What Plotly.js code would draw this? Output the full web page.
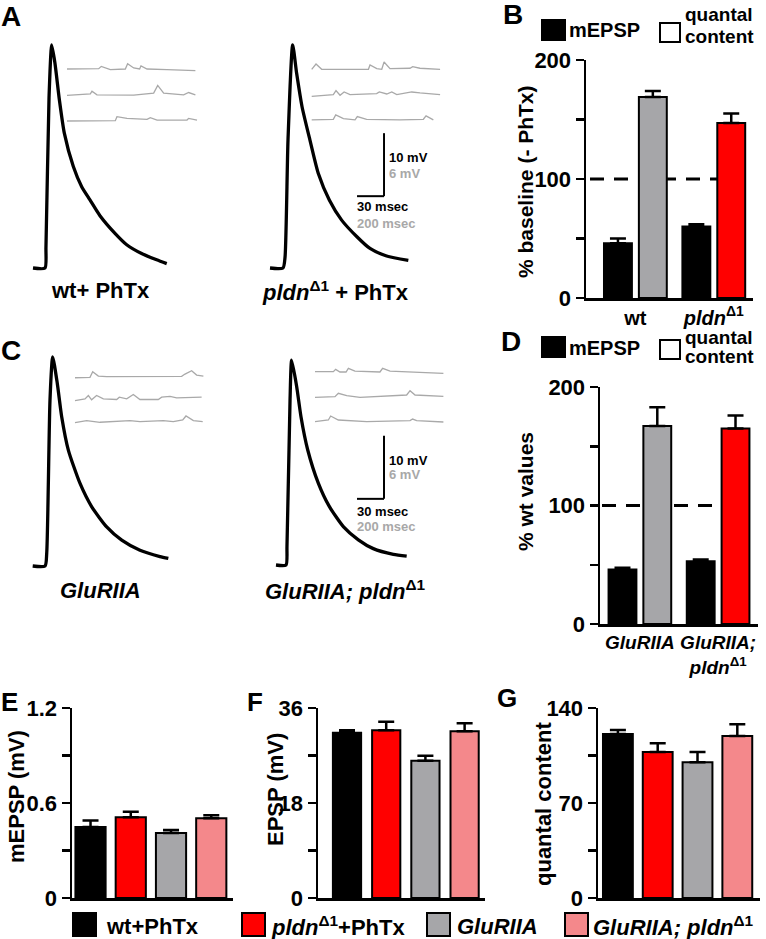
<!DOCTYPE html>
<html><head><meta charset="utf-8">
<script src="https://cdn.plot.ly/plotly-3.0.1.min.js"></script>
<style>body{margin:0;background:#fff}#chart{width:766px;height:939px}</style>
</head><body><div id="chart"></div>
<script>
// ================= DATA =================
// Evoked EPSP traces (time in ms, voltage in mV)
const epspWt_t    = [0, 13.3, 14.4, 17.8, 20.8, 24.4, 29.3, 34.8, 44.8, 54.1, 63.3, 74.4, 91.1, 104.1, 120.7, 137.4, 148.6];
const epspWt_v    = [0, 0, 3.3, 27, 35.4, 32.5, 26.7, 21.4, 16.1, 12.9, 10.8, 8.3, 5.5, 3.7, 2.3, 1.3, 0.7];
const epspPldn_t  = [0, 14.4, 16.7, 20, 25.2, 29.6, 35.6, 44.4, 53.7, 65.9, 79.6, 96.3, 111.1, 129.6, 153.7];
const epspPldn_v  = [0, 0, 1.7, 20.3, 35.4, 30.9, 25.6, 20.3, 15, 10.8, 7.6, 5, 3.1, 1.9, 1.2];
const epspGlu_t   = [0, 13.7, 15.6, 19.2, 22.2, 27.3, 32.2, 39.6, 52.6, 65.6, 82.2, 98.9, 119.2, 141.4, 150.7];
const epspGlu_v   = [0, 0, 2.1, 26.3, 33.2, 29, 23.7, 18.4, 13.1, 9.4, 6.2, 4.1, 2.5, 1.5, 1.2];
const epspGluP_t  = [0, 11.1, 12.2, 15.6, 17.4, 23, 27.8, 35.2, 47, 59.2, 74.8, 91.5, 108.1, 130.4, 145.2];
const epspGluP_v  = [0, 0, 2.9, 26.2, 32.5, 28.3, 23.5, 18.3, 13, 9.3, 6.1, 4, 2.6, 1.7, 1.4];

// Spontaneous mEPSP sweeps (time in ms, voltage in mV)
const miniWt1_t = [0, 235, 254, 321, 432, 449, 494, 538, 548, 593, 741, 951];
const miniWt1_v = [0, 0.03, 0.25, -0.06, 0, 0.5, 0.1, 0, 0.3, 0, -0.06, -0.16];
const miniWt2_t = [0, 173, 185, 222, 494, 642, 672, 716, 864, 901, 951];
const miniWt2_v = [-0.06, 0.1, 0.35, 0, -0.03, 0.16, 0.9, 0.16, 0, 0.22, 0];
const miniWt3_t = [0, 358, 370, 444, 593, 617, 667, 889, 901, 963];
const miniWt3_v = [-0.03, 0, 0.38, 0.22, 0.13, 0.29, 0.06, 0.06, 0.22, 0.06];

const miniPl1_t = [0, 32, 74, 420, 432, 482, 519, 536, 580, 728, 748, 802, 951];
const miniPl1_v = [0, 0.5, 0, 0, 0.41, 0.06, 0, 0.7, 0.06, 0.1, 0.25, 0.1, 0];
const miniPl2_t = [0, 160, 180, 210, 240, 284, 481, 501, 556, 593, 630, 741, 802, 951];
const miniPl2_v = [-0.16, 0, 0.38, -0.06, 0.25, 0, 0.1, 0.25, 0.06, 0.25, 0, 0.25, 0.16, 0];
const miniPl3_t = [0, 160, 178, 235, 321, 338, 407, 654, 827, 847, 901];
const miniPl3_v = [0, 0.06, 0.48, 0.13, 0, 0.32, 0.06, 0, 0.06, 0.38, 0];

const miniGl1_t = [0, 111, 131, 173, 235, 679, 790, 815, 864, 901, 951];
const miniGl1_v = [-0.1, -0.06, 0.48, 0.06, 0, -0.03, 0.03, 0.25, 0.57, 0.16, 0.06];
const miniGl2_t = [0, 74, 99, 123, 160, 210, 309, 328, 383, 432, 481, 617, 642, 704, 753, 938];
const miniGl2_v = [-0.1, 0.06, 0.38, -0.03, 0.38, 0.06, 0, 0.22, 0.06, 0.48, 0, 0, 0.22, 0.29, 0.16, 0.22];
const miniGl3_t = [0, 86, 185, 407, 481, 654, 728, 798, 822, 877, 946];
const miniGl3_v = [-0.03, 0.16, 0, 0.16, 0.06, 0.16, 0.06, 0.22, 0.6, 0.16, 0.06];

const miniGP1_t = [0, 136, 153, 185, 230, 247, 296, 481, 501, 556, 951];
const miniGP1_v = [0, 0, 0.22, -0.03, -0.03, 0.32, 0.06, -0.03, 0.32, 0.06, -0.16];
const miniGP2_t = [0, 148, 173, 235, 333, 481, 679, 704, 741, 951];
const miniGP2_v = [-0.06, 0, 0.32, 0.1, -0.06, 0.03, 0.16, 0.57, 0.16, 0.03];
const miniGP3_t = [0, 99, 116, 173, 383, 704, 723, 753, 951];
const miniGP3_v = [0, 0.16, 0.54, 0.16, 0, 0.1, 0.25, 0.1, -0.03];

// Panel B: % baseline (- PhTx)
const groupsB   = ['wt', '<i>pldn</i><sup>Δ1</sup>'];
const mepspB    = [46, 60];
const mepspBErr = [4, 2];
const qcB       = [169, 147];
const qcBErr    = [5, 8];
// Panel D: % wt values
const groupsD   = ['<i>GluRIIA</i>', '<i>GluRIIA;<br>pldn</i><sup>Δ1</sup>'];
const mepspD    = [46, 53];
const mepspDErr = [1.5, 1.5];
const qcD       = [167, 165];
const qcDErr    = [16, 11];
const refLevel  = 100;
// Panels E, F, G
const genotypes = ['wt+PhTx', 'pldnΔ1+PhTx', 'GluRIIA', 'GluRIIA; pldnΔ1'];
const legendLabels = ['wt+PhTx', '<i>pldn</i><sup>Δ1</sup>+PhTx', '<i>GluRIIA</i>', '<i>GluRIIA; pldn</i><sup>Δ1</sup>'];
const mepspE = [0.448, 0.51, 0.41, 0.503];
const mepspEErr = [0.042, 0.035, 0.02, 0.02];
const epspF = [31.3, 31.8, 26.0, 31.6];
const epspFErr = [0.5, 1.6, 0.95, 1.5];
const qcG = [120.8, 107.6, 100, 119.4];
const qcGErr = [3, 6.4, 7.6, 8.6];

// Scale bars
const scaleMs = 30, scaleMv = 10;

// ================= STYLE / LAYOUT =================
const W = 766, H = 939;
const FONT = 'Liberation Sans, Arial, sans-serif';
const COL = {black: '#000000', red: '#ff0000', gray: '#a6a6a9', pink: '#f4888b', mini: '#a9a9a9', grayText: '#a8a8a8'};
const genoColors = [COL.black, COL.red, COL.gray, COL.pink];
const fx = px => px / W, fy = py => 1 - py / H;

const layout = {
  width: W, height: H, margin: {l: 0, r: 0, t: 0, b: 0},
  showlegend: false, paper_bgcolor: '#ffffff', plot_bgcolor: 'rgba(0,0,0,0)',
  font: {family: FONT, size: 20, color: '#000', weight: 'bold'},
  barmode: 'group', bargap: 0.11, bargroupgap: 0.2, hovermode: false,
  shapes: [], annotations: []
};
const data = [];
let axN = 0;
function addAxes(box, xr, yr, xo, yo) {
  axN++;
  const sfx = axN === 1 ? '' : String(axN);
  const xid = 'x' + sfx, yid = 'y' + sfx;
  layout['xaxis' + sfx] = Object.assign({domain: [fx(box.l), fx(box.r)], range: xr, anchor: yid, visible: false, fixedrange: true}, xo || {});
  layout['yaxis' + sfx] = Object.assign({domain: [fy(box.b), fy(box.t)], range: yr, anchor: xid, visible: false, fixedrange: true}, yo || {});
  return {x: xid, y: yid};
}
function epspPanel(t, v, box, x0, yb) {
  const sx = 0.9, sy = 6.3; // px per ms, px per mV
  const ax = addAxes(box, [(box.l - x0) / sx, (box.r - x0) / sx], [(yb - box.b) / sy, (yb - box.t) / sy]);
  data.push({type: 'scatter', mode: 'lines', x: t, y: v, xaxis: ax.x, yaxis: ax.y,
    line: {color: '#000', width: 3.3, shape: 'spline', smoothing: 0.6}});
  return ax;
}
function miniPanel(sweeps, box, x0, yb, gap) {
  const sx = 0.135, sy = 10.5;
  const ax = addAxes(box, [(box.l - x0) / sx, (box.r - x0) / sx], [(yb - box.b) / sy, (yb - box.t) / sy]);
  sweeps.forEach((s, k) => data.push({type: 'scatter', mode: 'lines', x: s[0], y: s[1].map(v => v - k * gap),
    xaxis: ax.x, yaxis: ax.y, line: {color: COL.mini, width: 1.3}}));
  return ax;
}
function txt(text, px, py, opt) {
  opt = opt || {};
  const font = Object.assign({family: FONT, size: 22, color: '#000', weight: 'bold'}, opt.font || {});
  const a = Object.assign({text: text, x: fx(px), y: fy(py), xref: 'paper', yref: 'paper', showarrow: false,
    xanchor: 'center', yanchor: 'middle', borderpad: 0}, opt);
  a.font = font;
  layout.annotations.push(a);
}
function rect(l, t, r, b, fill) {
  layout.shapes.push({type: 'rect', xref: 'paper', yref: 'paper', x0: fx(l), x1: fx(r), y0: fy(b), y1: fy(t),
    fillcolor: fill, line: {color: '#000', width: 2}});
}
function scaleBar(ax, tEnd, vBase) {
  const ln = {color: '#000', width: 2};
  layout.shapes.push({type: 'line', xref: ax.x, yref: ax.y, x0: tEnd, x1: tEnd, y0: vBase, y1: vBase + scaleMv, line: ln});
  layout.shapes.push({type: 'line', xref: ax.x, yref: ax.y, x0: tEnd - scaleMs, x1: tEnd, y0: vBase, y1: vBase, line: ln});
}
function barAxes(box, xr, yr, dtick, minor, xfont, showX) {
  const lw = 2.5;
  return addAxes(box, xr, yr,
    {visible: true, type: 'category', showline: true, linewidth: lw, linecolor: '#000', ticks: '', showgrid: false,
     zeroline: false, showticklabels: showX, tickfont: {family: FONT, size: xfont, color: '#000', weight: 'bold'}},
    {visible: true, showline: true, linewidth: lw, linecolor: '#000', ticks: 'outside', ticklen: 8, tickwidth: lw,
     tickcolor: '#000', tick0: 0, dtick: dtick, showgrid: false, zeroline: false,
     minor: {dtick: minor, tick0: 0, ticks: 'outside', ticklen: 8, tickwidth: lw, tickcolor: '#000'},
     tickfont: {family: FONT, size: 22, color: '#000', weight: 'bold'}});
}
function errY(arr) {
  return {type: 'data', symmetric: false, array: arr, arrayminus: arr.map(() => 0), color: '#000', thickness: 2.5, width: 8};
}
const barLine = {color: '#000', width: 2};

// ---- Panel A ----
epspPanel(epspWt_t, epspWt_v, {l: 20, r: 200, t: 30, b: 280}, 33, 268);
const axAR = epspPanel(epspPldn_t, epspPldn_v, {l: 255, r: 440, t: 30, b: 280}, 270, 268);
miniPanel([[miniWt1_t, miniWt1_v], [miniWt2_t, miniWt2_v], [miniWt3_t, miniWt3_v]], {l: 55, r: 215, t: 50, b: 140}, 67, 69, 2.46);
miniPanel([[miniPl1_t, miniPl1_v], [miniPl2_t, miniPl2_v], [miniPl3_t, miniPl3_v]], {l: 300, r: 460, t: 50, b: 140}, 311.7, 69.3, 2.41);
scaleBar(axAR, 126.7, 11.4);
// ---- Panel C ----
epspPanel(epspGlu_t, epspGlu_v, {l: 20, r: 200, t: 330, b: 580}, 32.7, 566);
const axCR = epspPanel(epspGluP_t, epspGluP_v, {l: 255, r: 440, t: 330, b: 580}, 276, 565);
miniPanel([[miniGl1_t, miniGl1_v], [miniGl2_t, miniGl2_v], [miniGl3_t, miniGl3_v]], {l: 60, r: 220, t: 355, b: 440}, 75, 376.7, 2.17);
miniPanel([[miniGP1_t, miniGP1_v], [miniGP2_t, miniGP2_v], [miniGP3_t, miniGP3_v]], {l: 300, r: 460, t: 350, b: 440}, 315, 371.7, 2.38);
scaleBar(axCR, 120, 10.5);

// ---- Panel B ----
const axB = barAxes({l: 586, r: 753, t: 60, b: 298}, [-0.63, 1.5], [0, 200], 100, 50, 20, true);
data.push({type: 'bar', x: groupsB, y: mepspB, xaxis: axB.x, yaxis: axB.y, marker: {color: COL.black, line: barLine}, error_y: errY(mepspBErr)});
data.push({type: 'bar', x: groupsB, y: qcB, xaxis: axB.x, yaxis: axB.y, marker: {color: [COL.gray, COL.red], line: barLine}, error_y: errY(qcBErr)});
layout.shapes.push({type: 'line', layer: 'below', xref: 'paper', yref: axB.y, x0: fx(590), x1: fx(746), y0: refLevel, y1: refLevel,
  line: {color: '#000', width: 3, dash: '14px,10px'}});
// ---- Panel D ----
const axD = barAxes({l: 600, r: 758, t: 387, b: 624}, [-0.51, 1.51], [0, 200], 100, 50, 19, true);
data.push({type: 'bar', x: groupsD, y: mepspD, xaxis: axD.x, yaxis: axD.y, marker: {color: COL.black, line: barLine}, error_y: errY(mepspDErr)});
data.push({type: 'bar', x: groupsD, y: qcD, xaxis: axD.x, yaxis: axD.y, marker: {color: [COL.gray, COL.red], line: barLine}, error_y: errY(qcDErr)});
layout.shapes.push({type: 'line', layer: 'below', xref: 'paper', yref: axD.y, x0: fx(602), x1: fx(746), y0: refLevel, y1: refLevel,
  line: {color: '#000', width: 3, dash: '14px,10px'}});
// ---- Panels E, F, G ----
const axE = barAxes({l: 72, r: 233, t: 708, b: 898}, [-0.46, 3.54], [0, 1.2], 0.6, 0.3, 18, false);
data.push({type: 'bar', x: genotypes, y: mepspE, width: 0.75, xaxis: axE.x, yaxis: axE.y, marker: {color: genoColors, line: barLine}, error_y: errY(mepspEErr)});
const axF = barAxes({l: 318, r: 485, t: 708, b: 898}, [-0.74, 3.52], [0, 36], 18, 9, 18, false);
data.push({type: 'bar', x: genotypes, y: epspF, width: 0.72, xaxis: axF.x, yaxis: axF.y, marker: {color: genoColors, line: barLine}, error_y: errY(epspFErr)});
const axG = barAxes({l: 598, r: 760, t: 708, b: 898}, [-0.5, 3.57], [0, 140], 70, 35, 18, false);
data.push({type: 'bar', x: genotypes, y: qcG, width: 0.75, xaxis: axG.x, yaxis: axG.y, marker: {color: genoColors, line: barLine}, error_y: errY(qcGErr)});

// ---- Texts ----
txt('A', 11, 16, {font: {size: 28}});
txt('B', 513, 15, {font: {size: 28}});
txt('C', 11, 350, {font: {size: 28}});
txt('D', 511, 341, {font: {size: 28}});
txt('E', 9, 702, {font: {size: 26}});
txt('F', 255, 702, {font: {size: 26}});
txt('G', 507, 698, {font: {size: 26}});

txt('wt+ PhTx', 100, 291);
txt('<i>pldn</i><sup>Δ1</sup> + PhTx', 335, 291);
txt('<i>GluRIIA</i>', 100, 590);
txt('<i>GluRIIA; pldn</i><sup>Δ1</sup>', 345, 590);

[[157, 173, 207, 223], [460, 475, 511, 526]].forEach(r => {
  txt('10 mV', 388, r[0], {xanchor: 'left', font: {size: 13}});
  txt('6 mV', 388, r[1], {xanchor: 'left', font: {size: 13, color: COL.grayText}});
  txt('30 msec', 356, r[2], {xanchor: 'left', font: {size: 13}});
  txt('200 msec', 356, r[3], {xanchor: 'left', font: {size: 13, color: COL.grayText}});
});

// axis titles
txt('% baseline (- PhTx)', 525, 182, {textangle: -90, font: {size: 21}});
txt('% wt values', 525, 492, {textangle: -90, font: {size: 21}});
txt('mEPSP (mV)', 16, 797, {textangle: -90, font: {size: 22}});
txt('EPSP (mV)', 275, 790, {textangle: -90, font: {size: 22}});
txt('quantal content', 543, 804, {textangle: -90, font: {size: 22}});

// B / D legends: [square top, mEPSP y, quantal y, content y]
[[20, 30, 14, 36], [337, 348, 337, 356]].forEach(r => {
  rect(542, r[0], 565, r[0] + 20, COL.black);
  txt('mEPSP', 568, r[1], {xanchor: 'left', font: {size: 20}});
  rect(660, r[0] + 3, 680, r[0] + 22, '#ffffff');
  txt('quantal', 684, r[2], {xanchor: 'left', font: {size: 19}});
  txt('content', 684, r[3], {xanchor: 'left', font: {size: 19}});
});

// bottom legend
const legSq = [73, 242, 427, 565];
const legTx = [105, 270, 456, 592];
legendLabels.forEach((lab, i) => {
  rect(legSq[i], 913, legSq[i] + 23, 936, genoColors[i]);
  txt(lab, legTx[i], 926, {xanchor: 'left', font: {size: 22}});
});

Plotly.newPlot('chart', data, layout, {staticPlot: true, displayModeBar: false});
</script>
</body></html>
